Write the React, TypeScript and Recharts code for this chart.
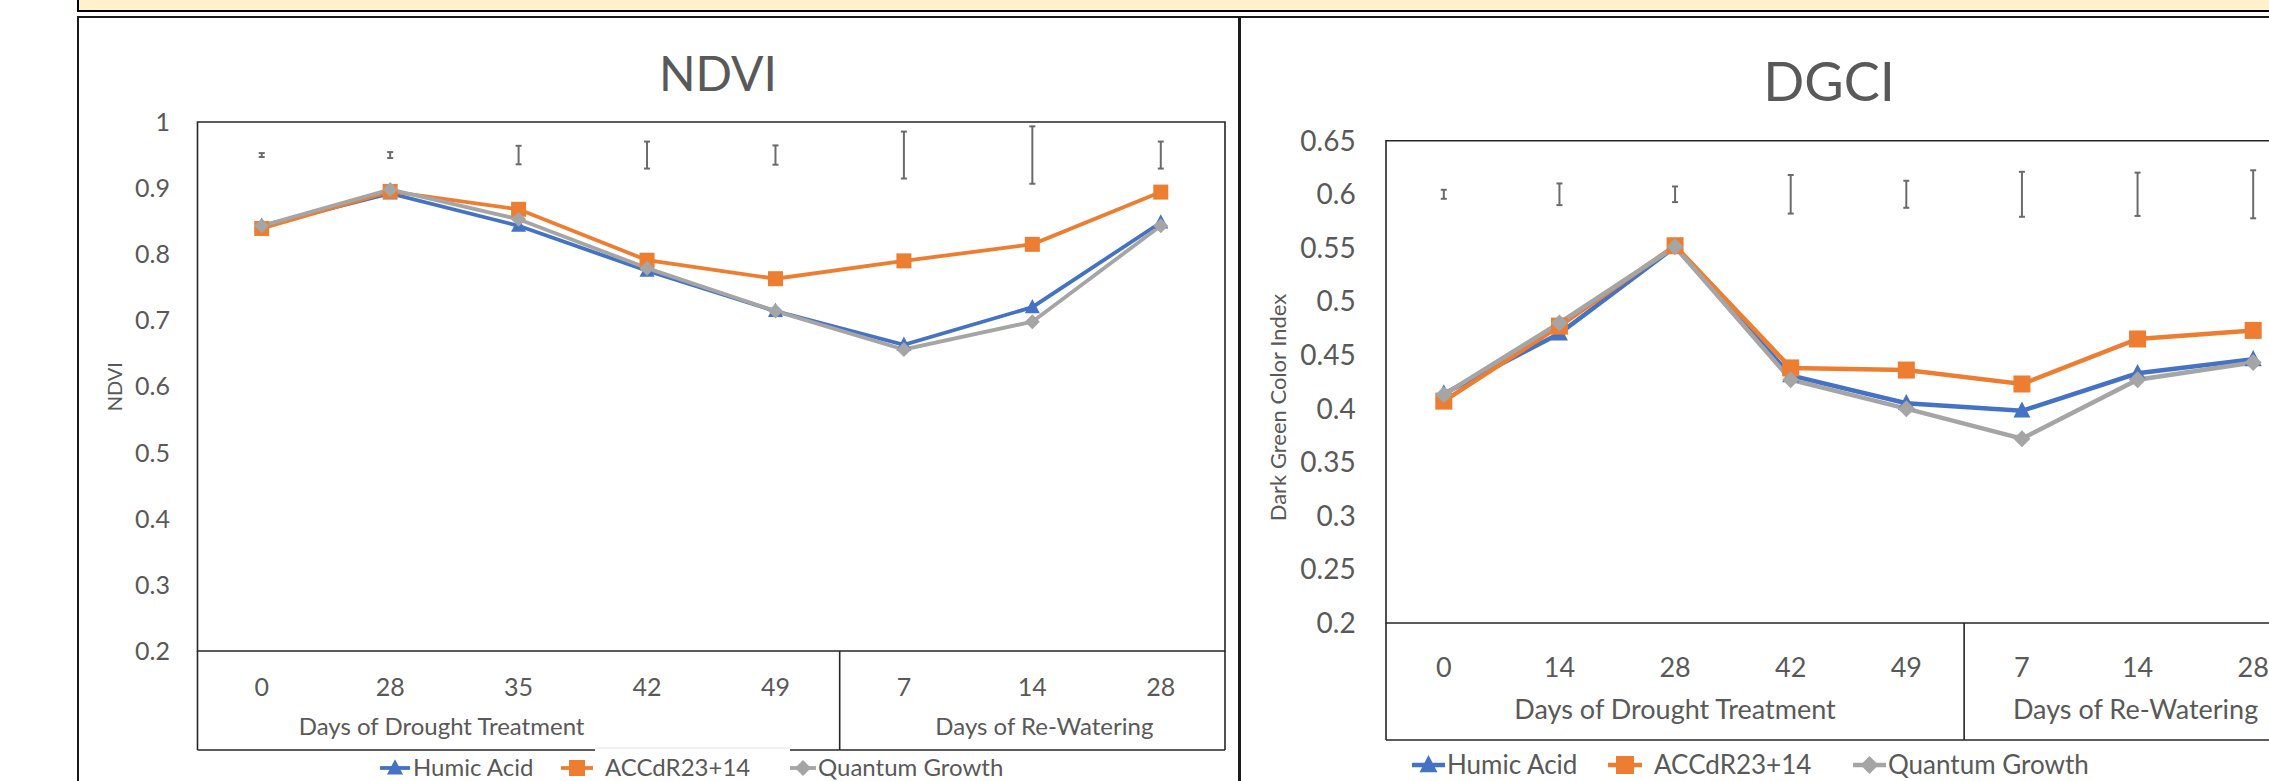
import React from 'react';
import { LineChart, Line, XAxis, YAxis, ErrorBar, ReferenceArea, Legend } from 'recharts';

const FONT = 'Lato, "Open Sans", Arial, sans-serif';
const INK = '#595959';
const FRAME = '#262626';

// series
const SERIES_NAMES = ['Humic Acid', 'ACCdR23+14', 'Quantum Growth'];
const SERIES_KEYS = ['humic', 'accd', 'quantum'];
const SERIES_COLORS = ['#4472C4', '#ED7D31', '#A5A5A5'];
const SERIES_MARKERS = ['triangle', 'square', 'diamond'];

// two-level x axis
const GROUP_LABELS = ['Days of Drought Treatment', 'Days of Re-Watering'];
const GROUP_SIZES = [5, 3];

// NDVI panel
const NDVI_DAYS = ['0', '28', '35', '42', '49', '7', '14', '28'];
const NDVI_HUMIC = [0.843, 0.892, 0.843, 0.775, 0.714, 0.663, 0.72, 0.848];
const NDVI_ACCD = [0.839, 0.895, 0.868, 0.791, 0.763, 0.79, 0.815, 0.894];
const NDVI_QUANTUM = [0.843, 0.898, 0.853, 0.779, 0.714, 0.656, 0.698, 0.843];
const NDVI_LSD = [0.003, 0.0045, 0.014, 0.0204, 0.0146, 0.0355, 0.0434, 0.0204];
const NDVI_LSD_AT = 0.95;
const NDVI_TICKS = [0.2, 0.3, 0.4, 0.5, 0.6, 0.7, 0.8, 0.9, 1];

// DGCI panel
const DGCI_DAYS = ['0', '14', '28', '42', '49', '7', '14', '28'];
const DGCI_HUMIC = [0.414, 0.47, 0.551, 0.431, 0.405, 0.398, 0.433, 0.446];
const DGCI_ACCD = [0.407, 0.477, 0.552, 0.438, 0.436, 0.423, 0.465, 0.473];
const DGCI_QUANTUM = [0.413, 0.48, 0.551, 0.427, 0.4, 0.372, 0.427, 0.443];
const DGCI_LSD = [0.0042, 0.0101, 0.0073, 0.018, 0.0126, 0.021, 0.0202, 0.0224];
const DGCI_LSD_AT = 0.6;
const DGCI_TICKS = [0.2, 0.25, 0.3, 0.35, 0.4, 0.45, 0.5, 0.55, 0.6, 0.65];

type LegendLayout = {
  left: number;
  top: number;
  width: number;
  height: number;
  font: number;
  baseline: number;
  markerY: number;
  items: number[][]; // line start, line end, text x
  patch?: number[]; // white text box: x1, x2, top
};

type Layout = {
  left: number;
  width: number;
  height: number;
  plotLeft: number;
  plotRight: number;
  plotTop: number;
  plotBottom: number;
  yAxisWidth: number;
  tickGap: number;
  boxH: number;
  tickFont: number;
  catFont: number;
  catBaseline: number;
  groupFont: number;
  groupBaseline: number;
  groupShift: number[];
  lineWidth: number;
  marker: number;
  legend: LegendLayout;
};

const NDVI_LAYOUT: Layout = {
  left: 0,
  width: 1239,
  height: 781,
  plotLeft: 197.5,
  plotRight: 1225,
  plotTop: 122,
  plotBottom: 651,
  yAxisWidth: 100,
  tickGap: 27.5,
  boxH: 99,
  tickFont: 25,
  catFont: 25,
  catBaseline: 45,
  groupFont: 24,
  groupBaseline: 84,
  groupShift: [-77, 12],
  lineWidth: 3.8,
  marker: 15,
  legend: {
    left: 370,
    top: 745,
    width: 660,
    height: 36,
    font: 24,
    baseline: 31,
    markerY: 23,
    items: [[10, 40, 43], [191, 223, 235], [420, 446, 448]],
    patch: [225, 420, 3],
  },
};

const DGCI_LAYOUT: Layout = {
  left: 1239,
  width: 1086,
  height: 781,
  plotLeft: 147,
  plotRight: 1072,
  plotTop: 140.7,
  plotBottom: 623,
  yAxisWidth: 120,
  tickGap: 30.3,
  boxH: 117,
  tickFont: 28,
  catFont: 27,
  catBaseline: 54,
  groupFont: 27,
  groupBaseline: 96,
  groupShift: [0, -2],
  lineWidth: 4.5,
  marker: 17,
  legend: {
    left: 161,
    top: 745,
    width: 720,
    height: 36,
    font: 26,
    baseline: 29,
    markerY: 20,
    items: [[12, 45, 47], [208, 242, 254], [453, 486, 488]],
  },
};

const Marker = ({ kind, cx, cy, size, color }: any) => {
  const h = size / 2;
  if (kind === 'square') {
    return <rect x={cx - h} y={cy - h} width={size} height={size} fill={color} />;
  }
  if (kind === 'triangle') {
    return (
      <polygon
        points={`${cx},${cy - size * 0.55} ${cx + h},${cy + size * 0.4} ${cx - h},${cy + size * 0.4}`}
        fill={color}
      />
    );
  }
  return (
    <polygon
      points={`${cx},${cy - h} ${cx + h},${cy} ${cx},${cy + h} ${cx - h},${cy}`}
      fill={color}
    />
  );
};

// category labels plus the boxed group row underneath
const CategoryTick = ({ x, y, payload, days, layout }: any) => {
  const i = Math.round(payload.value);
  const band = (layout.plotRight - layout.plotLeft) / days.length;
  const parts: React.ReactNode[] = [
    <text
      key="cat"
      x={x}
      y={y + layout.catBaseline}
      textAnchor="middle"
      fontSize={layout.catFont}
      fontFamily={FONT}
      fill={INK}
    >
      {days[i]}
    </text>,
  ];
  let start = 0;
  GROUP_SIZES.forEach((size, g) => {
    if (i === start) {
      const xl = x - band / 2;
      const xr = xl + size * band;
      const yb = y + layout.boxH;
      parts.push(<line key={`l${g}`} x1={xl} y1={y} x2={xl} y2={yb} stroke={FRAME} strokeWidth={1.6} />);
      parts.push(<line key={`b${g}`} x1={xl} y1={yb} x2={xr} y2={yb} stroke={FRAME} strokeWidth={1.6} />);
      if (g === GROUP_SIZES.length - 1) {
        parts.push(<line key={`r${g}`} x1={xr} y1={y} x2={xr} y2={yb} stroke={FRAME} strokeWidth={1.6} />);
      }
      parts.push(
        <text
          key={`g${g}`}
          x={(xl + xr) / 2 + layout.groupShift[g]}
          y={y + layout.groupBaseline}
          textAnchor="middle"
          fontSize={layout.groupFont}
          fontFamily={FONT}
          fill={INK}
        >
          {GROUP_LABELS[g]}
        </text>
      );
    }
    start += size;
  });
  return <g>{parts}</g>;
};

const LegendRow = ({ layout }: { layout: Layout }) => {
  const lg = layout.legend;
  return (
    <svg width={lg.width} height={lg.height} style={{ display: 'block', overflow: 'visible' }}>
      {lg.patch && (
        <g>
          <rect x={lg.patch[0]} y={lg.patch[2]} width={lg.patch[1] - lg.patch[0]} height={lg.height} fill="#fff" />
          <line x1={lg.patch[0]} y1={lg.patch[2]} x2={lg.patch[1]} y2={lg.patch[2]} stroke="#e2e2e2" strokeWidth={1} />
        </g>
      )}
      {SERIES_NAMES.map((name, s) => {
        const [a, b, t] = lg.items[s];
        return (
          <g key={name}>
            <line x1={a} y1={lg.markerY} x2={b} y2={lg.markerY} stroke={SERIES_COLORS[s]} strokeWidth={layout.lineWidth} />
            <Marker kind={SERIES_MARKERS[s]} cx={(a + b) / 2} cy={lg.markerY} size={layout.marker + 1} color={SERIES_COLORS[s]} />
            <text x={t} y={lg.baseline} fontSize={lg.font} fontFamily={FONT} fill={INK}>
              {name}
            </text>
          </g>
        );
      })}
    </svg>
  );
};

const IndexChart = ({ layout, days, series, lsd, lsdAt, ticks }: any) => {
  const data = days.map((d: string, i: number) => {
    const row: any = { i, day: d, lsdAt, lsd: lsd[i] };
    SERIES_KEYS.forEach((k, s) => {
      row[k] = series[s][i];
    });
    return row;
  });
  const yMin = ticks[0];
  const yMax = ticks[ticks.length - 1];
  const n = days.length;

  return (
    <LineChart
      width={layout.width}
      height={layout.height}
      data={data}
      margin={{
        top: layout.plotTop,
        left: layout.plotLeft - layout.yAxisWidth,
        right: layout.width - layout.plotRight,
        bottom: layout.height - layout.plotBottom - layout.boxH,
      }}
      style={{ fontFamily: FONT }}
    >
      <XAxis
        type="number"
        dataKey="i"
        domain={[-0.5, n - 0.5]}
        ticks={days.map((_: string, i: number) => i)}
        interval={0}
        axisLine={false}
        tickLine={false}
        tickSize={0}
        tickMargin={0}
        height={layout.boxH}
        tick={(p: any) => <CategoryTick {...p} days={days} layout={layout} />}
      />
      <YAxis
        type="number"
        domain={[yMin, yMax]}
        ticks={ticks}
        interval={0}
        width={layout.yAxisWidth}
        axisLine={false}
        tickLine={false}
        tickSize={0}
        tickMargin={layout.tickGap}
        tick={{ fontSize: layout.tickFont, fill: INK, fontFamily: FONT }}
        tickFormatter={(v: number) => String(+v.toFixed(2))}
      />
      <ReferenceArea
        x1={-0.5}
        x2={n - 0.5}
        y1={yMin}
        y2={yMax}
        fill="none"
        stroke={FRAME}
        strokeWidth={1.6}
        ifOverflow="visible"
      />
      {/* LSD bars sit on a fixed level above the curves */}
      <Line
        dataKey="lsdAt"
        stroke="none"
        dot={false}
        activeDot={false}
        legendType="none"
        isAnimationActive={false}
      >
        <ErrorBar dataKey="lsd" direction="y" width={3} strokeWidth={2} stroke="#6b6b6b" isAnimationActive={false} />
      </Line>
      {SERIES_KEYS.map((k, s) => (
        <Line
          key={k}
          type="linear"
          dataKey={k}
          name={SERIES_NAMES[s]}
          stroke={SERIES_COLORS[s]}
          strokeWidth={layout.lineWidth}
          activeDot={false}
          isAnimationActive={false}
          dot={(p: any) => (
            <Marker
              key={`${k}-${p.index}`}
              kind={SERIES_MARKERS[s]}
              cx={p.cx}
              cy={p.cy}
              size={layout.marker}
              color={SERIES_COLORS[s]}
            />
          )}
        />
      ))}
      <Legend
        layout="horizontal"
        verticalAlign="middle"
        align="center"
        width={layout.legend.width}
        height={layout.legend.height}
        wrapperStyle={{
          left: layout.legend.left,
          top: layout.legend.top,
          width: layout.legend.width,
          height: layout.legend.height,
        }}
        content={() => <LegendRow layout={layout} />}
      />
    </LineChart>
  );
};

export default function App() {
  return (
    <div
      style={{
        position: 'fixed',
        left: 0,
        top: 0,
        width: 2269,
        height: 781,
        overflow: 'hidden',
        background: '#fff',
        fontFamily: FONT,
      }}
    >
      {/* banner strip at the top */}
      <div
        style={{
          position: 'absolute',
          left: 77,
          top: -4,
          width: 2300,
          height: 16,
          boxSizing: 'border-box',
          background: '#FFF2CC',
          borderLeft: '2px solid #000',
          borderBottom: '2px solid #000',
        }}
      />
      {/* panel frames */}
      <div
        style={{
          position: 'absolute',
          left: 77,
          top: 16,
          width: 1164,
          height: 800,
          boxSizing: 'border-box',
          border: '2px solid #1a1a1a',
        }}
      />
      <div
        style={{
          position: 'absolute',
          left: 1238,
          top: 16,
          width: 1100,
          height: 800,
          boxSizing: 'border-box',
          border: '2px solid #1a1a1a',
        }}
      />
      <div style={{ position: 'absolute', left: NDVI_LAYOUT.left, top: 0 }}>
        <IndexChart
          layout={NDVI_LAYOUT}
          days={NDVI_DAYS}
          series={[NDVI_HUMIC, NDVI_ACCD, NDVI_QUANTUM]}
          lsd={NDVI_LSD}
          lsdAt={NDVI_LSD_AT}
          ticks={NDVI_TICKS}
        />
      </div>
      <div style={{ position: 'absolute', left: DGCI_LAYOUT.left, top: 0 }}>
        <IndexChart
          layout={DGCI_LAYOUT}
          days={DGCI_DAYS}
          series={[DGCI_HUMIC, DGCI_ACCD, DGCI_QUANTUM]}
          lsd={DGCI_LSD}
          lsdAt={DGCI_LSD_AT}
          ticks={DGCI_TICKS}
        />
      </div>
      {/* titles */}
      <svg
        width={2269}
        height={781}
        style={{ position: 'absolute', left: 0, top: 0, pointerEvents: 'none' }}
      >
        <text x={718} y={90.5} textAnchor="middle" fontSize={48} fontFamily={FONT} fill={INK}>
          NDVI
        </text>
        <text x={1829} y={101} textAnchor="middle" fontSize={54} fontFamily={FONT} fill={INK}>
          DGCI
        </text>
        <text
          x={113.6}
          y={386.7}
          transform="rotate(-90 113.6 386.7)"
          textAnchor="middle"
          dominantBaseline="central"
          fontSize={20}
          fontFamily={FONT}
          fill={INK}
        >
          NDVI
        </text>
        <text
          x={1277.5}
          y={407.5}
          transform="rotate(-90 1277.5 407.5)"
          textAnchor="middle"
          dominantBaseline="central"
          fontSize={22}
          fontFamily={FONT}
          fill={INK}
        >
          Dark Green Color Index
        </text>
      </svg>
    </div>
  );
}
